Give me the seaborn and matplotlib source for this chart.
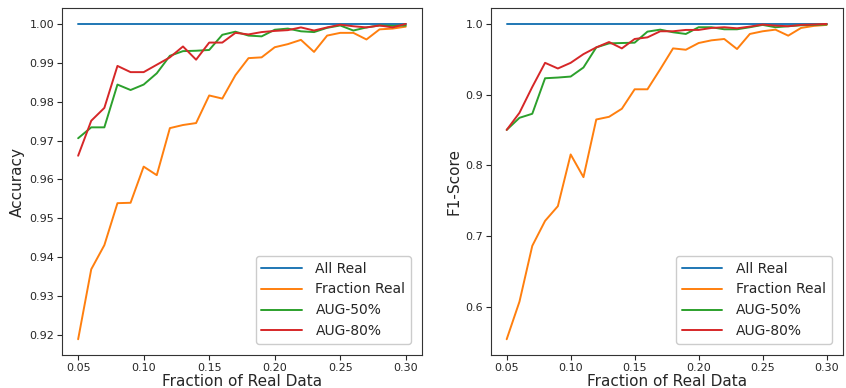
import numpy as np
import pandas as pd
import matplotlib
matplotlib.use('Agg')
import matplotlib.pyplot as plt
import seaborn as sns

fractions = [0.05, 0.06, 0.07, 0.08, 0.09, 0.10, 0.11, 0.12, 0.13, 0.14, 0.15, 0.16, 0.17,
             0.18, 0.19, 0.20, 0.21, 0.22, 0.23, 0.24, 0.25, 0.26, 0.27, 0.28, 0.29, 0.30]

# accuracy
acc_all_real = [1.0] * 26
acc_fraction = [0.9189, 0.9369, 0.9431, 0.9539, 0.9540, 0.9633, 0.9611, 0.9732, 0.9740, 0.9745,
                0.9816, 0.9808, 0.9868, 0.9912, 0.9914, 0.9940, 0.9948, 0.9959, 0.9928, 0.9970,
                0.9977, 0.9977, 0.9960, 0.9986, 0.9988, 0.9993]
acc_aug50 = [0.9706, 0.9734, 0.9734, 0.9844, 0.9830, 0.9844, 0.9873, 0.9918, 0.9930, 0.9931,
             0.9933, 0.9972, 0.9980, 0.9970, 0.9968, 0.9985, 0.9988, 0.9981, 0.9979, 0.9990,
             0.9996, 0.9983, 0.9991, 0.9996, 0.9995, 0.9996]
acc_aug80 = [0.9661, 0.9751, 0.9784, 0.9892, 0.9876, 0.9876, 0.9895, 0.9914, 0.9942, 0.9908,
             0.9952, 0.9952, 0.9977, 0.9973, 0.9979, 0.9982, 0.9984, 0.9991, 0.9983, 0.9991,
             0.9998, 0.9994, 0.9991, 0.9996, 0.9991, 1.0000]

# f1-score
f1_all_real = [1.0] * 26
f1_fraction = [0.5543, 0.6075, 0.6863, 0.7216, 0.7424, 0.8155, 0.7834, 0.8649, 0.8687, 0.8801,
               0.9076, 0.9076, 0.9360, 0.9654, 0.9635, 0.9730, 0.9768, 0.9787, 0.9645, 0.9858,
               0.9896, 0.9919, 0.9834, 0.9943, 0.9972, 0.9986]
f1_aug50 = [0.8502, 0.8673, 0.8730, 0.9232, 0.9242, 0.9256, 0.9384, 0.9668, 0.9725, 0.9730,
            0.9735, 0.9891, 0.9919, 0.9882, 0.9858, 0.9953, 0.9953, 0.9924, 0.9924, 0.9953,
            0.9986, 0.9953, 0.9967, 0.9981, 0.9986, 0.9991]
f1_aug80 = [0.8502, 0.8744, 0.9109, 0.9450, 0.9370, 0.9450, 0.9573, 0.9668, 0.9744, 0.9654,
            0.9787, 0.9810, 0.9896, 0.9896, 0.9915, 0.9915, 0.9943, 0.9953, 0.9938, 0.9962,
            0.9991, 0.9976, 0.9967, 0.9986, 0.9991, 1.0000]

labels = ['All Real', 'Fraction Real', 'AUG-50%', 'AUG-80%']


def to_long(series):
    frames = []
    for name, vals in zip(labels, series):
        frames.append(pd.DataFrame({'fraction': fractions, 'value': vals, 'setting': name}))
    return pd.concat(frames, ignore_index=True)


acc_df = to_long([acc_all_real, acc_fraction, acc_aug50, acc_aug80])
f1_df = to_long([f1_all_real, f1_fraction, f1_aug50, f1_aug80])

sns.set_style('ticks')
plt.rcParams['font.family'] = ['DejaVu Sans']

fig = plt.figure(figsize=(8.46, 3.88), dpi=100)
ax1 = fig.add_axes([0.073, 0.085, 0.426, 0.894])
ax2 = fig.add_axes([0.580, 0.085, 0.416, 0.894])

palette = sns.color_palette('tab10', 4)

for ax, df, ylabel in [(ax1, acc_df, 'Accuracy'), (ax2, f1_df, 'F1-Score')]:
    sns.lineplot(data=df, x='fraction', y='value', hue='setting', palette=palette,
                 linewidth=1.4, ax=ax)
    ax.set_xlabel('Fraction of Real Data', fontsize=11, labelpad=1)
    ax.set_ylabel(ylabel, fontsize=11, labelpad=3)
    ax.tick_params(labelsize=8, pad=2, length=3.5)
    for s in ax.spines.values():
        s.set_color('#333333')
    ax.legend(loc='lower right', fontsize=10, title=None, handlelength=2.9,
              handletextpad=1.0, borderaxespad=0.8, framealpha=1, edgecolor='#cccccc')

ax1.set_yticks(np.arange(0.92, 1.001, 0.01))
ax2.set_yticks([0.6, 0.7, 0.8, 0.9, 1.0])

plt.savefig('out.png')
